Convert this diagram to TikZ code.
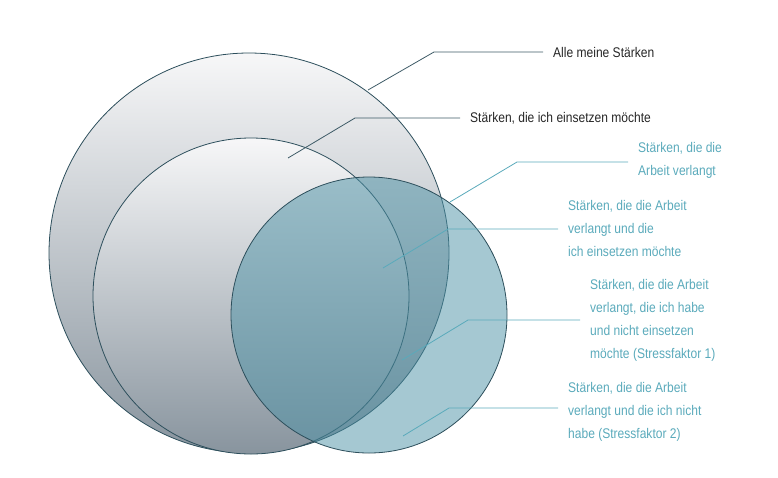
\documentclass[tikz,border=0pt]{standalone}
\usepackage{fontspec}
\setmainfont[FakeStretch=0.86]{Liberation Sans}
\usepackage{tikz}
\usetikzlibrary{calc}

\definecolor{ring}{RGB}{45,79,92}
\definecolor{darklead}{RGB}{61,90,102}
\definecolor{teallead}{RGB}{90,170,187}
\definecolor{tealfill}{RGB}{75,145,165}
\definecolor{greytop}{RGB}{247,247,248}
\definecolor{greybot}{RGB}{136,148,158}

\begin{document}
\begin{tikzpicture}[x=1pt,y=-1pt,every text node part/.style={align=left},
  txt/.style={anchor=west,inner sep=0pt,font=\fontsize{14}{23}\selectfont},
  greyball/.style={draw=ring,line width=0.8pt,top color=greytop,bottom color=greybot},
  lead/.style={line width=0.8pt,shorten >=10pt}]
  \useasboundingbox (0,0) rectangle (778,477);
  % Circles
  \draw[greyball] (249,253) circle (200);
  \draw[greyball] (251,296) circle (158);
  \draw[draw=ring,line width=0.8pt,fill=tealfill,fill opacity=0.5] (369,315) circle (138);

  % Labels
  \node[txt,text=black!85] (AMS) at (553,52) {Alle meine Stärken};
  \node[txt,text=black!85] (SEM) at (470,118) {Stärken, die ich einsetzen möchte};
  \node[txt,text=teallead] (SAV) at (638,160) {Stärken, die die\\Arbeit verlangt};
  \node[txt,text=teallead] (SAE) at (568,228) {Stärken, die die Arbeit\\verlangt und die\\ich einsetzen möchte};
  \node[txt,text=teallead] (SF1) at (590,320) {Stärken, die die Arbeit\\verlangt, die ich habe\\und nicht einsetzen\\möchte (Stressfaktor 1)};
  \node[txt,text=teallead] (SF2) at (568,412) {Stärken, die die Arbeit\\verlangt und die ich nicht\\habe (Stressfaktor 2)};

  % Leader lines
  \coordinate (a1) at (368,90);  \coordinate (k1) at (434,52);
  \coordinate (a2) at (288,158); \coordinate (k2) at (355,118);
  \coordinate (a3) at (450,202); \coordinate (k3) at (517,162);
  \coordinate (a4) at (383,268); \coordinate (k4) at (448,229);
  \coordinate (a5) at (402,360); \coordinate (k5) at (468,320);
  \coordinate (a6) at (403,436); \coordinate (k6) at (449,408);
  \draw[lead,darklead] (a1) -- (k1) -- (k1 -| AMS.west);
  \draw[lead,darklead] (a2) -- (k2) -- (k2 -| SEM.west);
  \draw[lead,teallead] (a3) -- (k3) -- (k3 -| SAV.west);
  \draw[lead,teallead] (a4) -- (k4) -- (k4 -| SAE.west);
  \draw[lead,teallead] (a5) -- (k5) -- (k5 -| SF1.west);
  \draw[lead,teallead] (a6) -- (k6) -- (k6 -| SF2.west);
\end{tikzpicture}
\end{document}
